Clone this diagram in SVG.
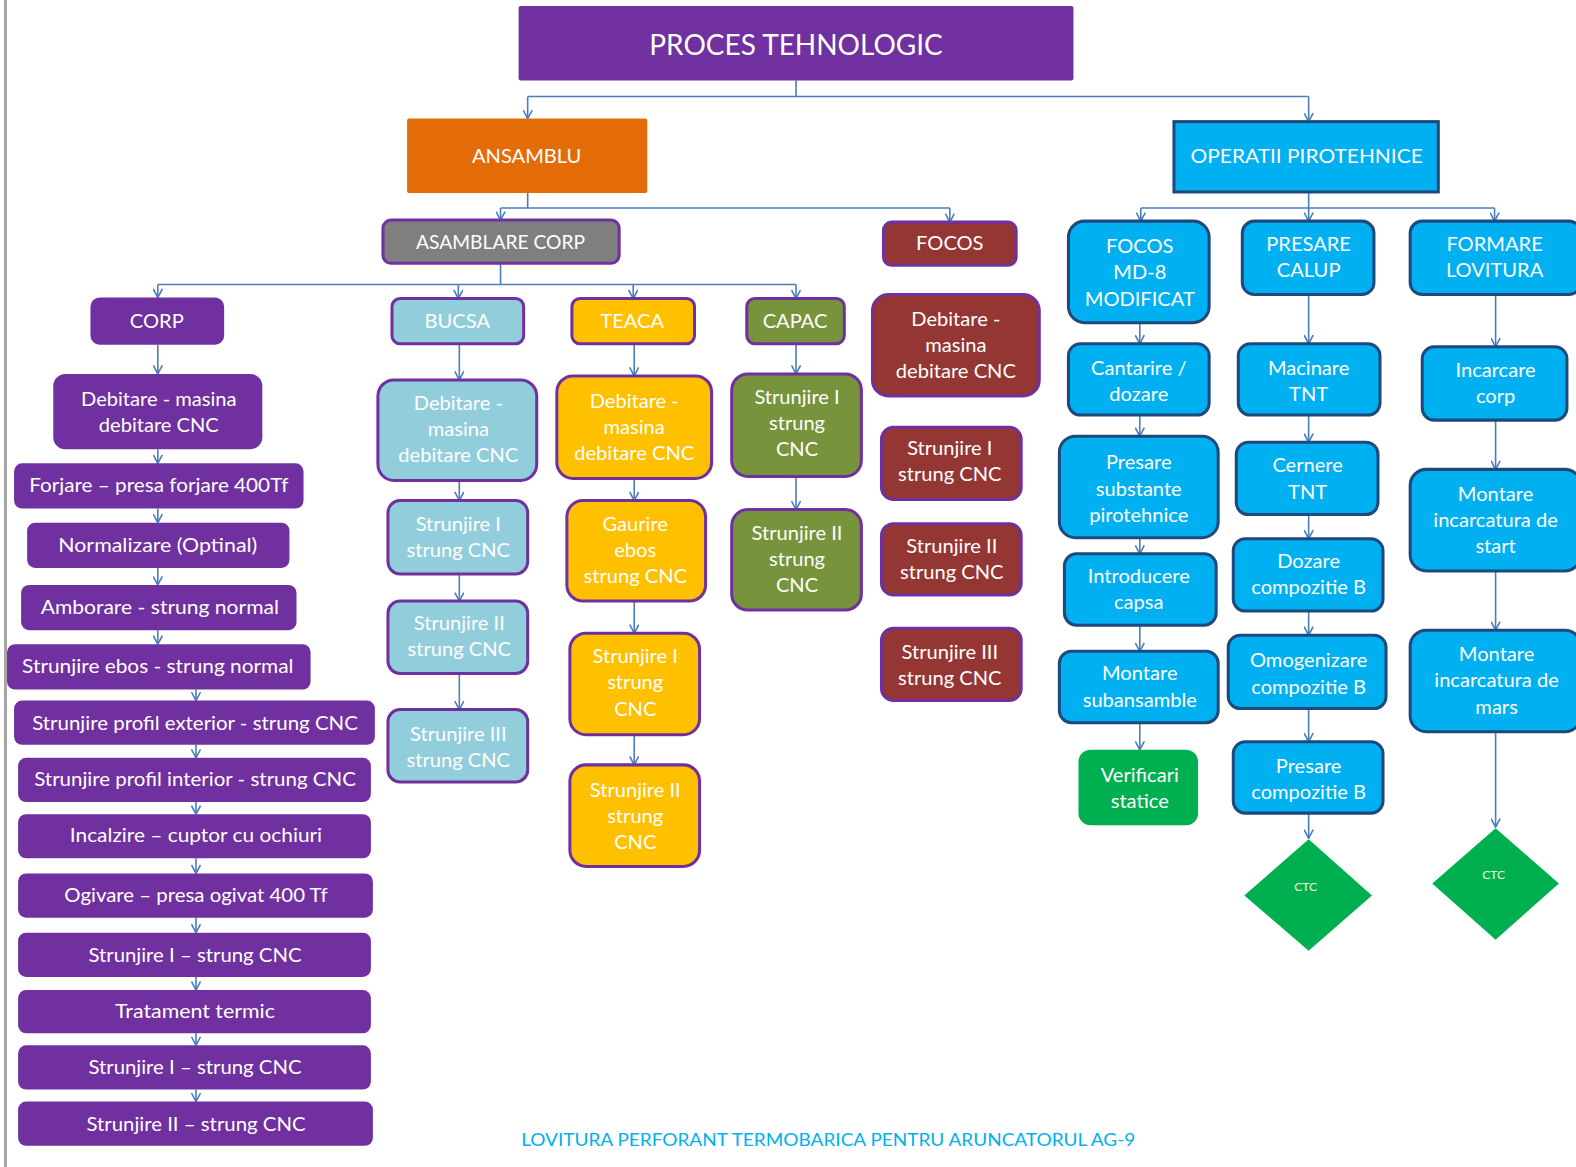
<svg xmlns="http://www.w3.org/2000/svg" width="1576" height="1167" viewBox="0 0 1576 1167">
  <style>
    text { font-family: Lato, "Open Sans", "Liberation Sans", sans-serif; fill: #FFFFFF; text-anchor: middle; }
    .t  { font-size: 20px; }
    .tt { font-size: 28px; }
    .ts { font-size: 12px; fill: #F4F7D0; }
    .cap { font-size: 18px; fill: #00B0F0; }
    .purple { fill: #7030A0; }
    .violet { fill: #7030A0; }
    .grey   { fill: #7F7F7F; stroke: #7030A0; stroke-width: 3; }
    .maroon { fill: #943634; stroke: #7030A0; stroke-width: 3; }
    .sky    { fill: #92CDDC; stroke: #7030A0; stroke-width: 3; }
    .amber  { fill: #FFC000; stroke: #7030A0; stroke-width: 3; }
    .olive  { fill: #77933C; stroke: #7030A0; stroke-width: 3; }
    .cyan   { fill: #00B0F0; stroke: #1F497D; stroke-width: 3; }
    .green  { fill: #00B050; }
    .orange { fill: #E36C09; }
    .link { fill: none; stroke: #4A7EBB; stroke-width: 1.6; }
    .arr  { fill: none; stroke: #4A7EBB; stroke-width: 1.6; marker-end: url(#vhead); }
  </style>
  <defs>
    <marker id="vhead" viewBox="0 0 10 10" refX="9.5" refY="5" markerWidth="10" markerHeight="10" markerUnits="userSpaceOnUse" orient="auto">
      <path d="M1,0.5 L9.5,5 L1,9.5" fill="none" stroke="#4A7EBB" stroke-width="1.6"/>
    </marker>
  </defs>

  <rect width="1576" height="1167" fill="#FFFFFF"/>
  <!-- page margin rule -->
  <rect x="4" y="0" width="3" height="1167" fill="#A6A6A6"/>

  <g transform="scale(1.0051)">
    <!-- connectors -->
    <g id="connectors">
      <path class="link" d="M792,80 V96 M525,96 H1302"/>
      <path class="arr" d="M525,96 V118"/>
      <path class="arr" d="M1302,96 V121"/>

      <path class="link" d="M525,192 V207 M498,207 H945"/>
      <path class="arr" d="M498,207 V219"/>
      <path class="arr" d="M945,207 V221"/>

      <path class="link" d="M498,262 V283 M157,283 H792"/>
      <path class="arr" d="M157,283 V296"/>
      <path class="arr" d="M456,283 V297"/>
      <path class="arr" d="M630,283 V297"/>
      <path class="arr" d="M792,283 V297"/>

      <!-- CORP chain -->
      <path class="arr" d="M157,343 V372"/>
      <path class="arr" d="M157,447 V461"/>
      <path class="arr" d="M157,506 V520"/>
      <path class="arr" d="M157,565 V582"/>
      <path class="arr" d="M157,627 V641"/>
      <path class="arr" d="M195,686 V697"/>
      <path class="arr" d="M195,741 V754"/>
      <path class="arr" d="M195,798 V810"/>
      <path class="arr" d="M195,854 V869"/>
      <path class="arr" d="M195,913 V928"/>
      <path class="arr" d="M195,972 V985"/>
      <path class="arr" d="M195,1028 V1040"/>
      <path class="arr" d="M195,1084 V1096"/>

      <!-- BUCSA chain -->
      <path class="arr" d="M457,342 V378"/>
      <path class="arr" d="M457,478 V498"/>
      <path class="arr" d="M457,571 V598"/>
      <path class="arr" d="M457,670 V706"/>

      <!-- TEACA chain -->
      <path class="arr" d="M631,342 V374"/>
      <path class="arr" d="M631,476 V498"/>
      <path class="arr" d="M631,598 V630"/>
      <path class="arr" d="M631,731 V761"/>

      <!-- CAPAC chain -->
      <path class="arr" d="M792,342 V372"/>
      <path class="arr" d="M792,474 V507"/>

      <!-- OPERATII PIROTEHNICE -->
      <path class="link" d="M1302,191 V207 M1135,207 H1487"/>
      <path class="arr" d="M1135,207 V220"/>
      <path class="arr" d="M1302,207 V220"/>
      <path class="arr" d="M1487,207 V220"/>

      <path class="arr" d="M1134,321 V342"/>
      <path class="arr" d="M1134,413 V434"/>
      <path class="arr" d="M1134,535 V551"/>
      <path class="arr" d="M1134,622 V648"/>
      <path class="arr" d="M1134,719 V746"/>

      <path class="arr" d="M1302,293 V342"/>
      <path class="arr" d="M1302,413 V440"/>
      <path class="arr" d="M1302,512 V536"/>
      <path class="arr" d="M1302,608 V632"/>
      <path class="arr" d="M1302,705 V738"/>
      <path class="arr" d="M1302,809 V834"/>

      <path class="arr" d="M1488,293 V345"/>
      <path class="arr" d="M1488,418 V467"/>
      <path class="arr" d="M1488,568 V627"/>
      <path class="arr" d="M1488,728 V823"/>
    </g>

    <!-- top level -->
    <g id="proces-tehnologic">
      <rect class="purple" x="516" y="6" width="552" height="74" rx="2"/>
      <text class="tt" x="792" y="55" textLength="292" lengthAdjust="spacingAndGlyphs">PROCES TEHNOLOGIC</text>
    </g>
    <g id="ansamblu">
      <rect class="orange" x="405" y="118" width="239" height="74" rx="2"/>
      <text class="t" x="524" y="162">ANSAMBLU</text>
    </g>
    <g id="operatii-pirotehnice">
      <rect class="cyan" x="1168" y="121" width="263" height="70"/>
      <text class="t" x="1300" y="162" textLength="231" lengthAdjust="spacingAndGlyphs">OPERATII PIROTEHNICE</text>
    </g>
    <g id="asamblare-corp">
      <rect class="grey" x="381" y="219" width="235" height="43" rx="8"/>
      <text class="t" x="498" y="248" textLength="168" lengthAdjust="spacingAndGlyphs">ASAMBLARE CORP</text>
    </g>
    <g id="focos">
      <rect class="maroon" x="879" y="221" width="132" height="43" rx="8"/>
      <text class="t" x="945" y="249">FOCOS</text>
    </g>

    <!-- CORP branch -->
    <g id="corp">
      <rect class="violet" x="90" y="296" width="133" height="47" rx="9"/>
      <text class="t" x="156" y="326">CORP</text>
    </g>
    <g id="corp-debitare">
      <rect class="violet" x="53" y="372" width="208" height="75" rx="12"/>
      <text class="t"><tspan x="158" y="404">Debitare - masina</tspan><tspan x="158" dy="26">debitare CNC</tspan></text>
    </g>
    <g id="corp-forjare">
      <rect class="violet" x="14" y="461" width="288" height="45" rx="8"/>
      <text class="t" x="158" y="490" textLength="258" lengthAdjust="spacingAndGlyphs">Forjare – presa forjare 400Tf</text>
    </g>
    <g id="corp-normalizare">
      <rect class="violet" x="27" y="520" width="261" height="45" rx="8"/>
      <text class="t" x="157" y="549" textLength="198" lengthAdjust="spacingAndGlyphs">Normalizare (Optinal)</text>
    </g>
    <g id="corp-amborare">
      <rect class="violet" x="21" y="582" width="274" height="45" rx="8"/>
      <text class="t" x="159" y="611" textLength="237" lengthAdjust="spacingAndGlyphs">Amborare - strung normal</text>
    </g>
    <g id="corp-strunjire-ebos">
      <rect class="violet" x="7" y="641" width="302" height="45" rx="8"/>
      <text class="t" x="157" y="670" textLength="270" lengthAdjust="spacingAndGlyphs">Strunjire ebos - strung normal</text>
    </g>
    <g id="corp-profil-exterior">
      <rect class="violet" x="14" y="697" width="359" height="44" rx="8"/>
      <text class="t" x="194" y="726" textLength="324" lengthAdjust="spacingAndGlyphs">Strunjire profil exterior - strung CNC</text>
    </g>
    <g id="corp-profil-interior">
      <rect class="violet" x="18" y="754" width="351" height="44" rx="8"/>
      <text class="t" x="194" y="782" textLength="320" lengthAdjust="spacingAndGlyphs">Strunjire profil interior - strung CNC</text>
    </g>
    <g id="corp-incalzire">
      <rect class="violet" x="18" y="810" width="351" height="44" rx="8"/>
      <text class="t" x="195" y="838" textLength="251" lengthAdjust="spacingAndGlyphs">Incalzire – cuptor cu ochiuri</text>
    </g>
    <g id="corp-ogivare">
      <rect class="violet" x="18" y="869" width="353" height="44" rx="8"/>
      <text class="t" x="195" y="897" textLength="262" lengthAdjust="spacingAndGlyphs">Ogivare – presa ogivat 400 Tf</text>
    </g>
    <g id="corp-strunjire-1a">
      <rect class="violet" x="18" y="928" width="351" height="44" rx="8"/>
      <text class="t" x="194" y="957" textLength="212" lengthAdjust="spacingAndGlyphs">Strunjire I – strung CNC</text>
    </g>
    <g id="corp-tratament">
      <rect class="violet" x="18" y="985" width="351" height="43" rx="8"/>
      <text class="t" x="194" y="1013" textLength="159" lengthAdjust="spacingAndGlyphs">Tratament termic</text>
    </g>
    <g id="corp-strunjire-1b">
      <rect class="violet" x="18" y="1040" width="351" height="44" rx="8"/>
      <text class="t" x="194" y="1069" textLength="212" lengthAdjust="spacingAndGlyphs">Strunjire I – strung CNC</text>
    </g>
    <g id="corp-strunjire-2">
      <rect class="violet" x="18" y="1096" width="353" height="44" rx="8"/>
      <text class="t" x="195" y="1125" textLength="218" lengthAdjust="spacingAndGlyphs">Strunjire II – strung CNC</text>
    </g>

    <!-- BUCSA branch -->
    <g id="bucsa">
      <rect class="sky" x="390" y="297" width="131" height="45" rx="8"/>
      <text class="t" x="455" y="326">BUCSA</text>
    </g>
    <g id="bucsa-debitare">
      <rect class="sky" x="376" y="378" width="158" height="100" rx="16"/>
      <text class="t"><tspan x="456" y="408">Debitare -</tspan><tspan x="456" dy="26">masina</tspan><tspan x="456" dy="26">debitare CNC</tspan></text>
    </g>
    <g id="bucsa-strunjire-1">
      <rect class="sky" x="386" y="498" width="139" height="73" rx="12"/>
      <text class="t"><tspan x="456" y="528">Strunjire I</tspan><tspan x="456" dy="26">strung CNC</tspan></text>
    </g>
    <g id="bucsa-strunjire-2">
      <rect class="sky" x="386" y="598" width="139" height="72" rx="12"/>
      <text class="t"><tspan x="457" y="627">Strunjire II</tspan><tspan x="457" dy="26">strung CNC</tspan></text>
    </g>
    <g id="bucsa-strunjire-3">
      <rect class="sky" x="386" y="706" width="139" height="72" rx="12"/>
      <text class="t"><tspan x="456" y="737">Strunjire III</tspan><tspan x="456" dy="26">strung CNC</tspan></text>
    </g>

    <!-- TEACA branch -->
    <g id="teaca">
      <rect class="amber" x="569" y="297" width="122" height="45" rx="8"/>
      <text class="t" x="629" y="326">TEACA</text>
    </g>
    <g id="teaca-debitare">
      <rect class="amber" x="554" y="374" width="154" height="102" rx="16"/>
      <text class="t"><tspan x="631" y="406">Debitare -</tspan><tspan x="631" dy="26">masina</tspan><tspan x="631" dy="26">debitare CNC</tspan></text>
    </g>
    <g id="teaca-gaurire">
      <rect class="amber" x="564" y="498" width="138" height="100" rx="16"/>
      <text class="t"><tspan x="632" y="528">Gaurire</tspan><tspan x="632" dy="26">ebos</tspan><tspan x="632" dy="26">strung CNC</tspan></text>
    </g>
    <g id="teaca-strunjire-1">
      <rect class="amber" x="567" y="630" width="129" height="101" rx="16"/>
      <text class="t"><tspan x="632" y="660">Strunjire I</tspan><tspan x="632" dy="26">strung</tspan><tspan x="632" dy="26">CNC</tspan></text>
    </g>
    <g id="teaca-strunjire-2">
      <rect class="amber" x="567" y="761" width="129" height="101" rx="16"/>
      <text class="t"><tspan x="632" y="793">Strunjire II</tspan><tspan x="632" dy="26">strung</tspan><tspan x="632" dy="26">CNC</tspan></text>
    </g>

    <!-- CAPAC branch -->
    <g id="capac">
      <rect class="olive" x="743" y="297" width="97" height="45" rx="8"/>
      <text class="t" x="791" y="326">CAPAC</text>
    </g>
    <g id="capac-strunjire-1">
      <rect class="olive" x="728" y="372" width="129" height="102" rx="16"/>
      <text class="t"><tspan x="793" y="402">Strunjire I</tspan><tspan x="793" dy="26">strung</tspan><tspan x="793" dy="26">CNC</tspan></text>
    </g>
    <g id="capac-strunjire-2">
      <rect class="olive" x="728" y="507" width="129" height="100" rx="16"/>
      <text class="t"><tspan x="793" y="537">Strunjire II</tspan><tspan x="793" dy="26">strung</tspan><tspan x="793" dy="26">CNC</tspan></text>
    </g>

    <!-- FOCOS branch -->
    <g id="focos-debitare">
      <rect class="maroon" x="868" y="293" width="166" height="101" rx="16"/>
      <text class="t"><tspan x="951" y="324">Debitare -</tspan><tspan x="951" dy="26">masina</tspan><tspan x="951" dy="26">debitare CNC</tspan></text>
    </g>
    <g id="focos-strunjire-1">
      <rect class="maroon" x="877" y="425" width="139" height="72" rx="12"/>
      <text class="t"><tspan x="945" y="453">Strunjire I</tspan><tspan x="945" dy="26">strung CNC</tspan></text>
    </g>
    <g id="focos-strunjire-2">
      <rect class="maroon" x="877" y="521" width="139" height="71" rx="12"/>
      <text class="t"><tspan x="947" y="550">Strunjire II</tspan><tspan x="947" dy="26">strung CNC</tspan></text>
    </g>
    <g id="focos-strunjire-3">
      <rect class="maroon" x="877" y="625" width="139" height="72" rx="12"/>
      <text class="t"><tspan x="945" y="656">Strunjire III</tspan><tspan x="945" dy="26">strung CNC</tspan></text>
    </g>

    <!-- FOCOS MD-8 branch -->
    <g id="focos-md8">
      <rect class="cyan" x="1063" y="220" width="140" height="101" rx="16"/>
      <text class="t"><tspan x="1134" y="252">FOCOS</tspan><tspan x="1134" dy="26">MD-8</tspan><tspan x="1134" dy="26">MODIFICAT</tspan></text>
    </g>
    <g id="cantarire">
      <rect class="cyan" x="1063" y="342" width="140" height="71" rx="12"/>
      <text class="t"><tspan x="1133" y="373">Cantarire /</tspan><tspan x="1133" dy="26">dozare</tspan></text>
    </g>
    <g id="presare-substante">
      <rect class="cyan" x="1054" y="434" width="158" height="101" rx="16"/>
      <text class="t"><tspan x="1133" y="467">Presare</tspan><tspan x="1133" dy="26">substante</tspan><tspan x="1133" dy="26">pirotehnice</tspan></text>
    </g>
    <g id="introducere-capsa">
      <rect class="cyan" x="1059" y="551" width="151" height="71" rx="12"/>
      <text class="t"><tspan x="1133" y="580">Introducere</tspan><tspan x="1133" dy="26">capsa</tspan></text>
    </g>
    <g id="montare-subansamble">
      <rect class="cyan" x="1054" y="648" width="158" height="71" rx="12"/>
      <text class="t"><tspan x="1134" y="677">Montare</tspan><tspan x="1134" dy="26">subansamble</tspan></text>
    </g>
    <g id="verificari-statice">
      <rect class="green" x="1073" y="746" width="119" height="75" rx="12"/>
      <text class="t"><tspan x="1134" y="778">Verificari</tspan><tspan x="1134" dy="26">statice</tspan></text>
    </g>

    <!-- PRESARE CALUP branch -->
    <g id="presare-calup">
      <rect class="cyan" x="1236" y="220" width="131" height="73" rx="12"/>
      <text class="t"><tspan x="1302" y="250">PRESARE</tspan><tspan x="1302" dy="26">CALUP</tspan></text>
    </g>
    <g id="macinare-tnt">
      <rect class="cyan" x="1232" y="342" width="141" height="71" rx="12"/>
      <text class="t"><tspan x="1302" y="373">Macinare</tspan><tspan x="1302" dy="26">TNT</tspan></text>
    </g>
    <g id="cernere-tnt">
      <rect class="cyan" x="1230" y="440" width="141" height="72" rx="12"/>
      <text class="t"><tspan x="1301" y="470">Cernere</tspan><tspan x="1301" dy="26">TNT</tspan></text>
    </g>
    <g id="dozare-compozitie">
      <rect class="cyan" x="1227" y="536" width="149" height="72" rx="12"/>
      <text class="t"><tspan x="1302" y="565">Dozare</tspan><tspan x="1302" dy="26">compozitie B</tspan></text>
    </g>
    <g id="omogenizare-compozitie">
      <rect class="cyan" x="1222" y="632" width="157" height="73" rx="12"/>
      <text class="t"><tspan x="1302" y="664">Omogenizare</tspan><tspan x="1302" dy="26">compozitie B</tspan></text>
    </g>
    <g id="presare-compozitie">
      <rect class="cyan" x="1227" y="738" width="149" height="71" rx="12"/>
      <text class="t"><tspan x="1302" y="769">Presare</tspan><tspan x="1302" dy="26">compozitie B</tspan></text>
    </g>
    <g id="ctc-calup">
      <polygon class="green" points="1302,835 1365,891 1302,946 1238,891"/>
      <text class="ts" x="1299" y="886">CTC</text>
    </g>

    <!-- FORMARE LOVITURA branch -->
    <g id="formare-lovitura">
      <rect class="cyan" x="1403" y="220" width="170" height="73" rx="12"/>
      <text class="t"><tspan x="1487" y="250">FORMARE</tspan><tspan x="1487" dy="26">LOVITURA</tspan></text>
    </g>
    <g id="incarcare-corp">
      <rect class="cyan" x="1415" y="345" width="144" height="73" rx="12"/>
      <text class="t"><tspan x="1488" y="375">Incarcare</tspan><tspan x="1488" dy="26">corp</tspan></text>
    </g>
    <g id="montare-start">
      <rect class="cyan" x="1403" y="467" width="170" height="101" rx="16"/>
      <text class="t"><tspan x="1488" y="498">Montare</tspan><tspan x="1488" dy="26">incarcatura de</tspan><tspan x="1488" dy="26">start</tspan></text>
    </g>
    <g id="montare-mars">
      <rect class="cyan" x="1403" y="627" width="170" height="101" rx="16"/>
      <text class="t"><tspan x="1489" y="658">Montare</tspan><tspan x="1489" dy="26">incarcatura de</tspan><tspan x="1489" dy="26">mars</tspan></text>
    </g>
    <g id="ctc-lovitura">
      <polygon class="green" points="1488,824 1551,879 1488,935 1425,879"/>
      <text class="ts" x="1486" y="875">CTC</text>
    </g>

    <!-- caption -->
    <text class="cap" x="824" y="1140" textLength="611" lengthAdjust="spacingAndGlyphs">LOVITURA PERFORANT TERMOBARICA PENTRU ARUNCATORUL AG-9</text>
  </g>
</svg>
